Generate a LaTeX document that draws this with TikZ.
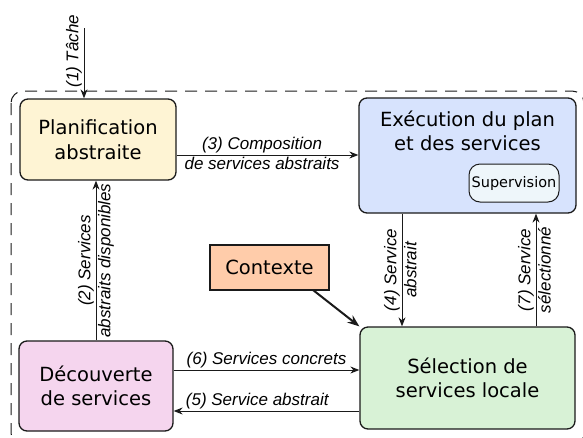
\documentclass[tikz,border=0pt]{standalone}
\usepackage{fontspec}
\setmainfont{DejaVu Sans}
\newfontfamily\labelfont{Liberation Sans}
\usetikzlibrary{arrows.meta}

\definecolor{planfill}{HTML}{FEF4D4}
\definecolor{execfill}{HTML}{D7E3FD}
\definecolor{supfill}{HTML}{EEF6FA}
\definecolor{ctxfill}{HTML}{FFCCAA}
\definecolor{decfill}{HTML}{F5D5EE}
\definecolor{selfill}{HTML}{D8F2D6}
\definecolor{edge}{HTML}{1A1A1A}

\tikzset{
  box/.style={draw=edge, line width=1.3pt, rounded corners=8pt, align=center,
    inner sep=0pt, font=\fontsize{19.5}{24.5}\selectfont},
  boxtext/.style={align=center, inner sep=0pt, font=\fontsize{19.5}{24.5}\selectfont},
  flow/.style={draw=edge, line width=1pt, -{Stealth[length=9pt,width=7pt]}},
  lbl/.style={font=\labelfont\fontsize{17}{19}\selectfont\itshape, inner sep=1.5pt},
}

\begin{document}
\begin{tikzpicture}[x=1pt, y=-1pt]
  \useasboundingbox (0,0) rectangle (583,437);
  \begin{scope}
    \clip (0,0) rectangle (583,437);
    % outer dashed frame
    \draw[edge, line width=1pt, dash pattern=on 12pt off 8pt, rounded corners=12pt]
      (11,91) rectangle (584,445);
  \end{scope}

  % boxes
  \node[box, fill=planfill, minimum width=156pt, minimum height=81pt] (plan) at (98,139.5)
    {Planification\\abstraite};
  \node[box, fill=execfill, minimum width=217pt, minimum height=115pt] (exec) at (467.5,155.5) {};
  \node[boxtext] (exectxt) at (467.5,131) {Exécution du plan\\et des services};
  \node[draw=edge, line width=1pt, fill=supfill, rounded corners=11pt, inner sep=0pt,
    minimum width=90pt, minimum height=38pt, font=\fontsize{14.5}{17}\selectfont]
    (sup) at (514,183) {Supervision};
  \node[draw=edge, line width=1.3pt, fill=ctxfill, inner sep=0pt, minimum width=119pt,
    minimum height=45pt, font=\fontsize{19.5}{24.5}\selectfont] (ctx) at (269.5,267.5) {Contexte};
  \node[box, fill=decfill, minimum width=154pt, minimum height=90pt] (dec) at (96,386)
    {Découverte\\de services};
  \node[box, fill=selfill, minimum width=215pt, minimum height=102pt] (sel) at (467.5,378)
    {Sélection de\\services locale};

  % (1) incoming task
  \coordinate (task) at (84,28);
  \draw[flow] (task) -- (plan.north -| task)
    node[lbl, pos=0.33, rotate=90, anchor=south] {(1) Tâche};

  % (3) composition
  \draw[flow] (plan.east |- 0,155) -- (exec.west |- 0,155)
    node[lbl, pos=0.47, above] {(3) Composition}
    node[lbl, pos=0.47, below] {de services abstraits};

  % (2) available abstract services
  \draw[flow] (dec.north -| 96,0) -- (plan.south -| 96,0)
    node[lbl, midway, rotate=90, anchor=south] {(2) Services}
    node[lbl, midway, rotate=90, anchor=north] {abstraits disponibles};

  % (4) abstract service to selection
  \draw[flow] (exec.south -| 402,0) -- (sel.north -| 402,0)
    node[lbl, midway, rotate=90, anchor=south] {(4) Service}
    node[lbl, midway, rotate=90, anchor=north] {abstrait};

  % (7) selected service back to execution
  \draw[flow] (sel.north -| 536,0) -- (exec.south -| 536,0)
    node[lbl, midway, rotate=90, anchor=south] {(7) Service}
    node[lbl, midway, rotate=90, anchor=north] {sélectionné};

  % (6) concrete services
  \draw[flow] (dec.east |- 0,370) -- (sel.west |- 0,370)
    node[lbl, midway, above] {(6) Services concrets};

  % (5) abstract service to discovery
  \draw[flow] (sel.west |- 0,411) -- (dec.east |- 0,411)
    node[lbl, pos=0.55, above] {(5) Service abstrait};

  % context feeds the selection
  \coordinate (ctxout) at (313,290);
  \draw[draw=edge, line width=2pt, -{Stealth[length=12pt,width=9pt]}]
    (ctxout) -- (sel.north west);
\end{tikzpicture}
\end{document}
